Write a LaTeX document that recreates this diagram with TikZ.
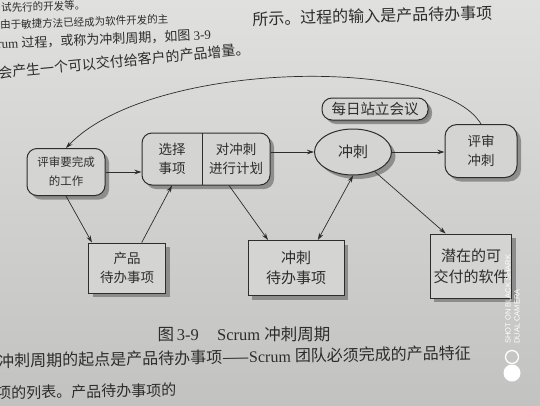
\documentclass[tikz,border=0pt]{standalone}
\usepackage{fontspec}
\setmainfont{Liberation Serif}
\newfontfamily\cjk{Noto Sans CJK SC}
\newfontfamily\wmfont{Liberation Sans}
\usetikzlibrary{shapes.geometric,shadows,arrows.meta}
\definecolor{paper}{RGB}{212,212,210}
\definecolor{paperlight}{RGB}{224,224,222}
\definecolor{paperdark}{RGB}{194,194,192}
\definecolor{ink}{RGB}{45,45,45}
\definecolor{shade}{RGB}{125,125,125}
\tikzset{
  boxtext/.style={align=center, text=ink, font=\cjk\fontsize{13.5}{19}\selectfont},
  plainbox/.style={boxtext, draw=ink, line width=1pt, fill=paper,
    drop shadow={shadow xshift=4pt, shadow yshift=-4pt, fill=shade, opacity=.8}},
  roundbox/.style={plainbox, rounded corners=10pt},
  ovalbox/.style={plainbox, ellipse},
  pagetext/.style={anchor=west, inner sep=0pt, text=ink},
  wmark/.style={anchor=west, inner sep=0pt, text=white, font=\wmfont\fontsize{7.5}{8}\selectfont}
}
\begin{document}
\begin{tikzpicture}[x=1pt, y=-1pt, >={Stealth[length=7pt,width=4.5pt]}, line width=.7pt, color=ink]
\useasboundingbox (0,0) rectangle (540,405);
\shade[top color=paperlight, bottom color=paperdark] (0,0) rectangle (540,405);

\node[pagetext, rotate=2, font=\cjk\fontsize{10.5}{11}\selectfont] (line1) at (1,8) {试先行的开发等。};
\node[pagetext, rotate=2, font=\cjk\fontsize{10.5}{11}\selectfont] (line2) at (0,25) {由于敏捷方法已经成为软件开发的主};
\node[pagetext, rotate=2.5, font=\fontsize{13}{14}\selectfont] (line3a) at (-3,44) {rum {\cjk 过程，或称为冲刺周期，如图} 3-9};
\node[pagetext, rotate=1.5, font=\cjk\fontsize{16}{16}\selectfont] (line3b) at (252,19) {所示。过程的输入是产品待办事项};
\node[pagetext, rotate=5.5, font=\cjk\fontsize{14}{14}\selectfont] (line4) at (-2,73) {会产生一个可以交付给客户的产品增量。};

\node[roundbox, minimum width=78pt, minimum height=47pt, font=\cjk\fontsize{11.5}{19}\selectfont] (worktodo) at (66,172) {评审要完成\\的工作};
\node[roundbox, minimum width=128pt, minimum height=52pt] (planbox) at (206,159) {};
\node[boxtext, minimum width=60pt, minimum height=52pt] (select) at (172,159) {选择\\事项};
\node[boxtext, minimum width=68pt, minimum height=52pt] (plan) at (236,159) {对冲刺\\进行计划};
\draw[line width=1pt] (select.north east) -- (select.south east);
\node[plainbox, minimum width=77pt, minimum height=50pt] (productlog) at (127,268) {产品\\待办事项};
\node[plainbox, minimum width=96pt, minimum height=55pt, font=\cjk\fontsize{15}{20}\selectfont] (sprintlog) at (296,268) {冲刺\\待办事项};
\node[plainbox, minimum width=78pt, minimum height=64pt, font=\cjk\fontsize{15}{21}\selectfont] (potential) at (471,266) {潜在的可\\交付的软件};
\node[ovalbox, minimum width=77pt, minimum height=46pt, font=\cjk\fontsize{15}{19}\selectfont] (sprint) at (353,152) {冲刺};
\node[roundbox, minimum width=72pt, minimum height=53pt, rounded corners=12pt] (sprintreview) at (481,151) {评审\\冲刺};
\node[roundbox, minimum width=106pt, minimum height=22pt, inner sep=2pt, font=\cjk\fontsize{14.5}{16}\selectfont,
  drop shadow={shadow xshift=2pt, shadow yshift=-2pt, fill=shade, opacity=.8}] (standup) at (375,109) {每日站立会议};

\draw[->] (sprintreview.north) .. controls (440,55) and (150,60) .. (worktodo.north);
\draw[->] (worktodo.east) -- (worktodo.east -| planbox.west);
\draw[->] (worktodo.south) -- (productlog.144);
\draw[->] (productlog.60) -- (select.south);
\draw[->] (plan.255) -- (sprintlog.135);
\draw[->] (sprint.west -| planbox.east) -- (sprint.west);
\draw[<->] (sprint.south) -- (sprintlog.52);
\draw[->] (sprint.-42) -- (potential.128);
\draw[->] (sprint.east) -- (sprint.east -| sprintreview.west);

\node[pagetext, anchor=center, font=\fontsize{16.5}{17}\selectfont] (caption) at (244,334) {{\cjk 图}\,3-9\hspace{1.1em}Scrum {\cjk 冲刺周期}};
\node[pagetext, rotate=1, font=\fontsize{16}{16}\selectfont] (body1) at (-2,361) {{\cjk 冲刺周期的起点是产品待办事项——}Scrum {\cjk 团队必须完成的产品特征}};
\node[pagetext, rotate=1, font=\cjk\fontsize{15}{15}\selectfont] (body2) at (-4,393) {项的列表。产品待办事项的};

\node[wmark, rotate=90] (shot) at (508,344) {SHOT ON BLACK SHARK};
\node[wmark, rotate=90] (dual) at (517,344) {DUAL CAMERA};
\draw[white, line width=1.3pt] (512,357) circle[radius=6.5pt];
\fill[white] (512,373) circle[radius=8.5pt];
\end{tikzpicture}
\end{document}
